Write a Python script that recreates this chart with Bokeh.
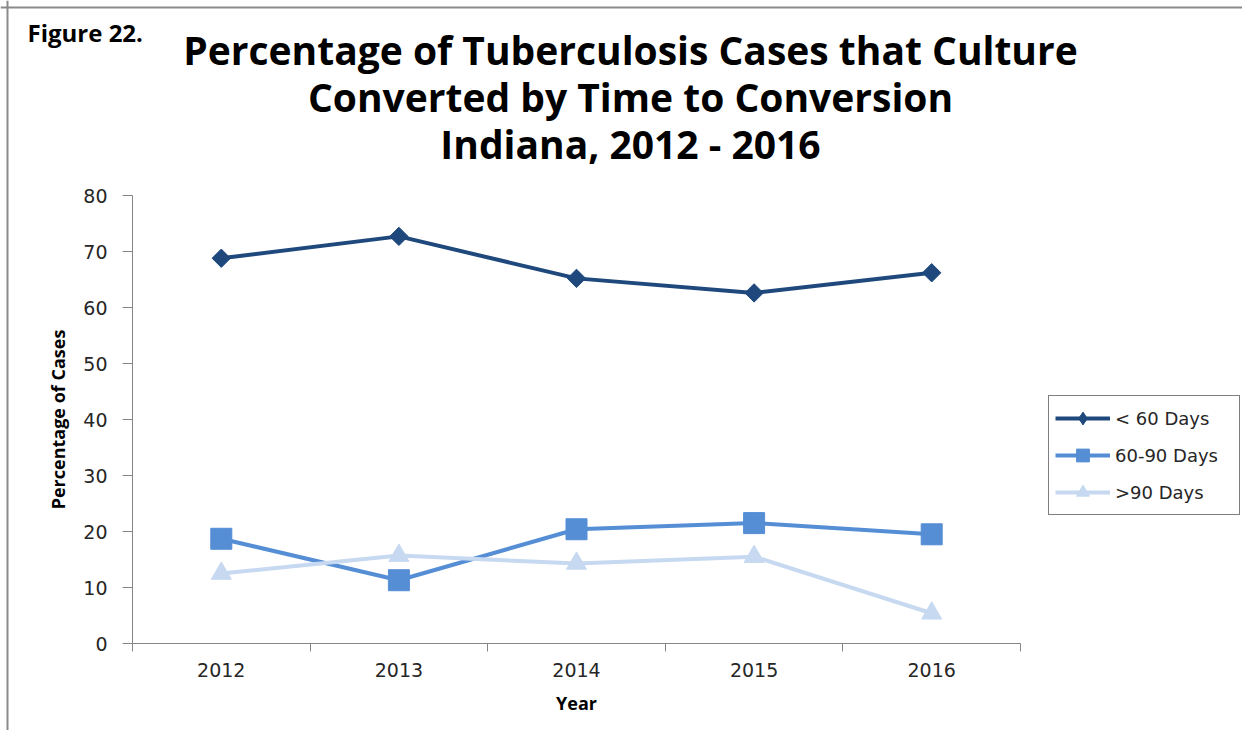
from bokeh.plotting import figure
from bokeh.models import FixedTicker, Legend, LegendItem, Label, Range1d, Span
from bokeh.embed import file_html
from bokeh.resources import INLINE

years = [2012, 2013, 2014, 2015, 2016]
lt60 = [68.8, 72.7, 65.2, 62.6, 66.2]
d60_90 = [18.7, 11.3, 20.4, 21.5, 19.5]
gt90 = [12.5, 15.7, 14.3, 15.5, 5.4]
series_names = ["< 60 Days", "60-90 Days", ">90 Days"]
y_ticks = [0, 10, 20, 30, 40, 50, 60, 70, 80]
cat_bounds = [2011.5, 2012.5, 2013.5, 2014.5, 2015.5, 2016.5]
title_lines = ["Percentage of Tuberculosis Cases that Culture",
               "Converted by Time to Conversion",
               "Indiana, 2012 - 2016"]
figure_tag = "Figure 22."

colors = ["#1F497D", "#558ED5", "#C6D9F1"]

W, H = 1242, 730
# plot area in canvas pixels
PL, PR, PT, PB = 132, 1020, 195, 643
xu = (PR - PL) / 5.0
yu = (PB - PT) / 80.0
x0 = 2011.5 - PL / xu
x1 = 2016.5 + (W - PR) / xu
y0 = -(H - PB) / yu
y1 = 80 + PT / yu

p = figure(width=W, height=H, output_backend="svg", toolbar_location=None,
           x_range=Range1d(x0, x1), y_range=Range1d(y0, y1),
           min_border=0, min_border_left=0, min_border_right=0,
           min_border_top=0, min_border_bottom=0)
p.outline_line_color = None
p.xgrid.visible = False
p.ygrid.visible = False

# frame border of the original picture (top & left edges)
p.add_layout(Span(location=x0 + 7.0 / xu, dimension="height",
                  line_color="#8a8a8a", line_width=2))
p.add_layout(Span(location=y1 - 7.0 / yu, dimension="width",
                  line_color="#8a8a8a", line_width=2))

# axes
ax = p.xaxis[0]
ax.fixed_location = 0
ax.bounds = (2011.5, 2016.5)
ax.ticker = FixedTicker(ticks=years, minor_ticks=cat_bounds)
ax.major_tick_line_color = None
ax.major_tick_out = 0
ax.major_tick_in = 0
ax.minor_tick_out = 8
ax.minor_tick_in = 0
ax.minor_tick_line_color = "#868686"
ax.axis_line_color = "#868686"
ax.major_label_text_font = "DejaVu Sans"
ax.major_label_text_font_size = "19px"
ax.major_label_text_color = "#262626"
ax.major_label_standoff = 11
ax.axis_label = "Year"
ax.axis_label_text_font = "Open Sans"
ax.axis_label_text_font_style = "bold"
ax.axis_label_text_font_size = "18px"
ax.axis_label_text_color = "black"
ax.axis_label_standoff = 11

ay = p.yaxis[0]
ay.fixed_location = 2011.5
ay.bounds = (0, 80)
ay.ticker = FixedTicker(ticks=y_ticks)
ay.minor_tick_line_color = None
ay.major_tick_out = 10
ay.major_tick_in = 0
ay.major_tick_line_color = "#868686"
ay.axis_line_color = "#868686"
ay.major_label_text_font = "DejaVu Sans"
ay.major_label_text_font_size = "19px"
ay.major_label_text_color = "#262626"
ay.major_label_standoff = 15
ay.axis_label = "Percentage of Cases"
ay.axis_label_text_font = "Open Sans"
ay.axis_label_text_font_style = "bold"
ay.axis_label_text_font_size = "18px"
ay.axis_label_text_color = "black"
ay.axis_label_standoff = 10

# series
l1 = p.line(years, lt60, line_color=colors[0], line_width=4)
# diamond key for the legend (sits hidden under the rotated-square markers)
m1_key = p.scatter(years, lt60, marker="diamond", size=13,
                   fill_color=colors[0], line_color=colors[0])
m1 = p.scatter(years, lt60, marker="square", angle=0.785398, size=13,
               fill_color=colors[0], line_color=colors[0])
l2 = p.line(years, d60_90, line_color=colors[1], line_width=4)
m2 = p.scatter(years, d60_90, marker="square", size=21,
               fill_color=colors[1], line_color=colors[1])
l3 = p.line(years, gt90, line_color=colors[2], line_width=4)
m3 = p.scatter(years, gt90, marker="triangle", size=20,
               fill_color=colors[2], line_color=colors[2])

legend = Legend(items=[LegendItem(label=series_names[0], renderers=[l1, m1_key]),
                       LegendItem(label=series_names[1], renderers=[l2, m2]),
                       LegendItem(label=series_names[2], renderers=[l3, m3])],
                location=(1048, H - 515), orientation="vertical",
                border_line_color="black", border_line_width=1,
                padding=6, margin=0, spacing=5,
                glyph_width=55, glyph_height=32, label_height=32, label_standoff=5,
                label_width=118,
                label_text_font="DejaVu Sans", label_text_font_size="18px",
                label_text_color="#262626")
p.add_layout(legend, "center")

# titles
title_y = [49, 96, 143]
for t, ty in zip(title_lines, title_y):
    p.add_layout(Label(x=630, y=H - ty, x_units="screen", y_units="screen",
                       text=t, text_font="Open Sans", text_font_style="bold",
                       text_font_size="39px", text_align="center",
                       text_baseline="middle", text_color="black"))

p.add_layout(Label(x=27, y=H - 32, x_units="screen", y_units="screen",
                   text=figure_tag, text_font="Open Sans", text_font_style="bold",
                   text_font_size="24px", text_baseline="middle", text_align="left",
                   text_color="black"))

open("out.html", "w").write(file_html(p, INLINE))
